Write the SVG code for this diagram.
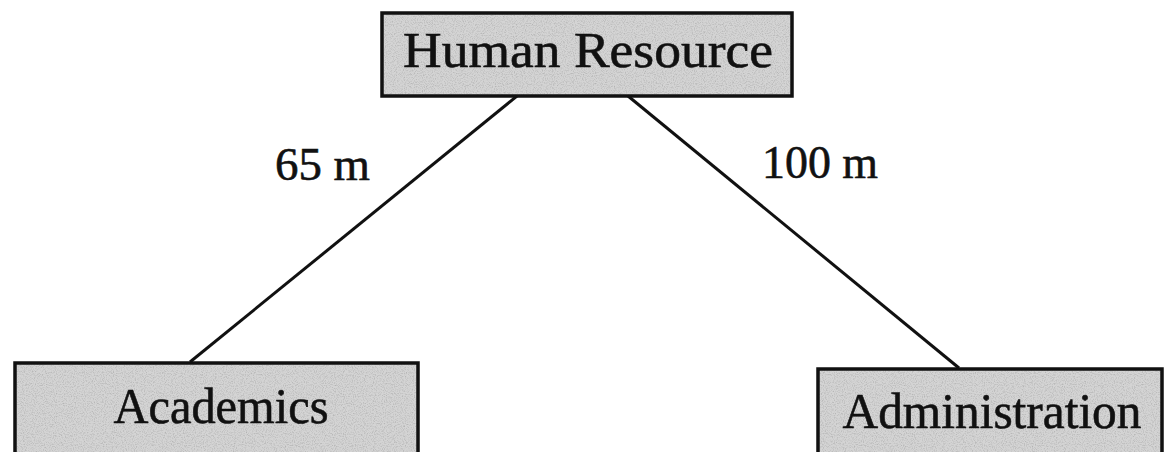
<svg xmlns="http://www.w3.org/2000/svg" width="1170" height="452" viewBox="0 0 1170 452">
<style>
.box{fill:#d4d4d4;stroke:none}
.frame{fill:none;stroke:#111;stroke-width:3.5}
.lbl{font-family:"Liberation Serif","DejaVu Serif",serif;fill:#111;stroke:#111;stroke-width:0.6}
.node{font-size:50px;text-anchor:middle}
.edge{font-size:46px}
.conn{stroke:#111;stroke-width:3;fill:none}
</style>
<defs>
<filter id="grain" x="0" y="0" width="1" height="1">
<feTurbulence type="fractalNoise" baseFrequency="0.9" numOctaves="2" seed="3" result="n"/>
<feColorMatrix in="n" type="matrix" values="0 0 0 0 0.45  0 0 0 0 0.45  0 0 0 0 0.45  0 0 0 -2.2 1.25" result="dots"/>
<feComposite in="dots" in2="SourceGraphic" operator="in" result="d2"/>
<feMerge><feMergeNode in="SourceGraphic"/><feMergeNode in="d2"/></feMerge>
</filter>
</defs>
<rect width="1170" height="452" fill="#fff"/>
<g id="connectors">
<line class="conn" x1="517" y1="96" x2="190" y2="362"/>
<line class="conn" x1="628" y1="96" x2="959" y2="368"/>
<text class="lbl edge" x="275" y="180" textLength="95" lengthAdjust="spacingAndGlyphs">65 m</text>
<text class="lbl edge" x="762" y="178" textLength="116" lengthAdjust="spacingAndGlyphs">100 m</text>
</g>
<g id="human-resource">
<rect class="box" x="382" y="13" width="410" height="83" filter="url(#grain)"/>
<rect class="frame" x="382" y="13" width="410" height="83"/>
<text class="lbl node" x="588" y="67" textLength="370" lengthAdjust="spacingAndGlyphs">Human Resource</text>
</g>
<g id="academics">
<rect class="box" x="15" y="363" width="403" height="95" filter="url(#grain)"/>
<rect class="frame" x="15" y="363" width="403" height="95"/>
<text class="lbl node" x="221" y="423" textLength="215" lengthAdjust="spacingAndGlyphs">Academics</text>
</g>
<g id="administration">
<rect class="box" x="818" y="369" width="344" height="95" filter="url(#grain)"/>
<rect class="frame" x="818" y="369" width="344" height="95"/>
<text class="lbl node" x="992" y="428" textLength="299" lengthAdjust="spacingAndGlyphs">Administration</text>
</g>
</svg>
